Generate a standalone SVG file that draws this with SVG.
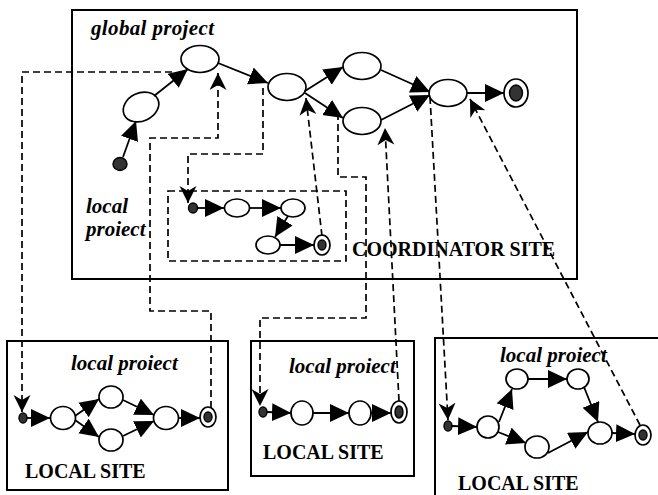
<svg xmlns="http://www.w3.org/2000/svg" width="658" height="495" viewBox="0 0 658 495">
<style>
.box{fill:none;stroke:#000;stroke-width:2}
.n{fill:#fff;stroke:#000;stroke-width:1.7}
.d{fill:#333;stroke:#000;stroke-width:1.4}
.e{stroke:#000;stroke-width:1.8;fill:none;marker-end:url(#a)}
.dl{stroke:#000;stroke-width:1.7;fill:none;stroke-dasharray:7 4;marker-end:url(#s)}
.dbox{fill:none;stroke:#000;stroke-width:1.7;stroke-dasharray:7 4}
.it{font-family:"Liberation Serif",serif;font-weight:bold;font-style:italic;font-size:21px}
.lb{font-family:"Liberation Serif",serif;font-weight:bold;font-size:20px}
</style>
<defs>
<marker id="a" markerUnits="userSpaceOnUse" markerWidth="22" markerHeight="20" refX="19" refY="9" orient="auto"><path d="M0,0 L19,9 L0,18 Z" fill="#000"/></marker>
<marker id="s" markerUnits="userSpaceOnUse" markerWidth="20" markerHeight="20" refX="17" refY="8.5" orient="auto"><path d="M0,0 L17,8.5 L0,17 L5,8.5 Z" fill="#000"/></marker>
</defs>
<g id="coordinator-site">
<rect class="box" x="72" y="10" width="505" height="269"/>
<text class="it" x="91" y="35" textLength="123">global project</text>
<text class="lb" x="352" y="256" font-size="21">COORDINATOR SITE</text>
</g>
<g id="inner-local-box">
<rect class="dbox" x="168" y="191" width="178" height="70"/>
<text class="it" x="86" y="213">local</text>
<text class="it" x="86" y="236">proiect</text>
</g>
<g id="local-site-1">
<rect class="box" x="7" y="341" width="221" height="149"/>
<text class="it" x="71" y="370">local proiect</text>
<text class="lb" x="25" y="478">LOCAL SITE</text>
</g>
<g id="local-site-2">
<rect class="box" x="251" y="341" width="163" height="135"/>
<text class="it" x="289" y="373">local proiect</text>
<text class="lb" x="263" y="459" font-size="21">LOCAL SITE</text>
</g>
<g id="local-site-3">
<path class="box" d="M658,338 H435 V495"/>
<text class="it" x="500" y="362">local proiect</text>
<text class="lb" x="458" y="490" font-size="18">LOCAL SITE</text>
</g>
<g id="global-start"><ellipse class="d" cx="120" cy="164" rx="7" ry="6.5"/></g>
<g id="g-a"><ellipse class="n" cx="141" cy="107" rx="18.5" ry="14" transform="rotate(-25 141 107)"/></g>
<g id="g-b"><ellipse class="n" cx="200" cy="59" rx="19" ry="13.5"/></g>
<g id="g-c"><ellipse class="n" cx="287" cy="87" rx="19" ry="13.5"/></g>
<g id="g-d"><ellipse class="n" cx="362" cy="66" rx="19" ry="13.5"/></g>
<g id="g-e"><ellipse class="n" cx="362" cy="121" rx="19" ry="13.5"/></g>
<g id="g-f"><ellipse class="n" cx="448" cy="93" rx="19" ry="13.5"/></g>
<g id="global-end"><ellipse class="n" cx="516" cy="93" rx="12" ry="14"/><ellipse class="d" cx="516" cy="93" rx="6.5" ry="8"/></g>
<g id="i-start"><ellipse class="d" cx="193" cy="208" rx="4.5" ry="5"/></g>
<g id="i-1"><ellipse class="n" cx="237" cy="208" rx="12.5" ry="9"/></g>
<g id="i-2"><ellipse class="n" cx="293" cy="208" rx="12" ry="9"/></g>
<g id="i-3"><ellipse class="n" cx="268" cy="245" rx="12" ry="9"/></g>
<g id="i-end"><ellipse class="n" cx="322" cy="245" rx="8" ry="10"/><ellipse class="d" cx="322" cy="245" rx="4" ry="5"/></g>
<g id="l1-start"><ellipse class="d" cx="23" cy="418" rx="4" ry="5"/></g>
<g id="l1-1"><ellipse class="n" cx="63" cy="418" rx="12.5" ry="11.5"/></g>
<g id="l1-2"><ellipse class="n" cx="111" cy="397" rx="12" ry="11"/></g>
<g id="l1-3"><ellipse class="n" cx="111" cy="440" rx="12" ry="11"/></g>
<g id="l1-4"><ellipse class="n" cx="166" cy="418" rx="12.5" ry="11.5"/></g>
<g id="l1-end"><ellipse class="n" cx="208" cy="417" rx="8" ry="10"/><ellipse class="d" cx="208" cy="417" rx="4" ry="5"/></g>
<g id="l2-start"><ellipse class="d" cx="263" cy="412" rx="4" ry="5"/></g>
<g id="l2-1"><ellipse class="n" cx="302" cy="413" rx="11" ry="12"/></g>
<g id="l2-2"><ellipse class="n" cx="360" cy="413" rx="11" ry="12"/></g>
<g id="l2-end"><ellipse class="n" cx="399" cy="412" rx="8" ry="11"/><ellipse class="d" cx="399" cy="412" rx="4" ry="6"/></g>
<g id="l3-start"><ellipse class="d" cx="448" cy="426" rx="4" ry="5"/></g>
<g id="l3-1"><ellipse class="n" cx="488" cy="427" rx="11" ry="11"/></g>
<g id="l3-2"><ellipse class="n" cx="517" cy="379" rx="11" ry="10"/></g>
<g id="l3-3"><ellipse class="n" cx="578" cy="379" rx="11" ry="10"/></g>
<g id="l3-4"><ellipse class="n" cx="537" cy="447" rx="12" ry="11"/></g>
<g id="l3-5"><ellipse class="n" cx="600" cy="433" rx="12" ry="11"/></g>
<g id="l3-end"><ellipse class="n" cx="643" cy="435" rx="8" ry="10"/><ellipse class="d" cx="643" cy="435" rx="4" ry="5"/></g>
<g id="connectors">
<path class="e" d="M123,157 L136,121"/>
<path class="e" d="M154,96 L188,69"/>
<path class="e" d="M218,63 L268,83"/>
<path class="e" d="M305,91 L343,67"/>
<path class="e" d="M305,93 L343,118"/>
<path class="e" d="M381,70 L430,92"/>
<path class="e" d="M381,120 L430,95"/>
<path class="e" d="M467,93 L504,93"/>
<path class="e" d="M197,208 L224,208"/>
<path class="e" d="M250,208 L281,208"/>
<path class="e" d="M288,216 L275,237"/>
<path class="e" d="M280,245 L314,245"/>
<path class="e" d="M27,418 L50,418"/>
<path class="e" d="M75,416 L99,399"/>
<path class="e" d="M75,420 L99,437"/>
<path class="e" d="M123,400 L154,415"/>
<path class="e" d="M123,436 L154,421"/>
<path class="e" d="M179,418 L200,418"/>
<path class="e" d="M267,412 L291,413"/>
<path class="e" d="M313,413 L349,413"/>
<path class="e" d="M371,413 L391,413"/>
<path class="e" d="M452,426 L477,427"/>
<path class="e" d="M499,422 L512,389"/>
<path class="e" d="M498,432 L526,443"/>
<path class="e" d="M528,379 L567,379"/>
<path class="e" d="M584,387 L598,422"/>
<path class="e" d="M548,453 L588,432"/>
<path class="e" d="M612,433 L635,434"/>
<path class="dl" d="M172,72 H22 V412"/>
<path class="dl" d="M211,408 V311 H150 V138 H218 V73"/>
<path class="dl" d="M263,88 V154 H188 V203"/>
<path class="dl" d="M322,236 L306,98"/>
<path class="dl" d="M338,113 V177 H366 V318 H260 V406"/>
<path class="dl" d="M399,401 L385,128"/>
<path class="dl" d="M430,97 L448,420"/>
<path class="dl" d="M640,425 L470,99"/>
</g>
</svg>
